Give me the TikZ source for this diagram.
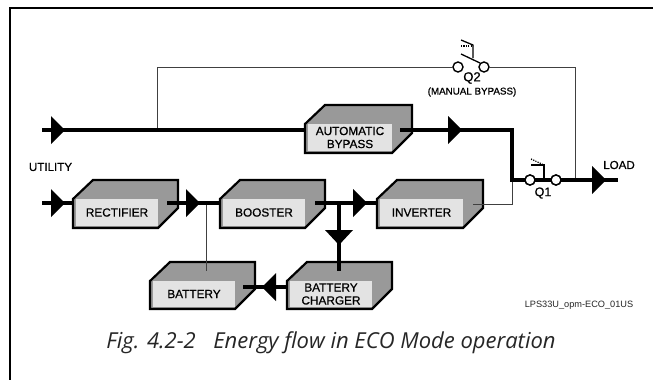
\documentclass[tikz,border=0pt]{standalone}
\usepackage{fontspec}
\setmainfont{Liberation Sans}
\newfontfamily\labfont[RawFeature={embolden=0.7}]{Liberation Sans}
\newfontfamily\capfont{Open Sans}
\tikzset{
  x=1pt,y=-1pt,
  frameline/.style={line width=2.2pt,black},
  boxline/.style={line width=2.2pt,black,line join=miter},
  power/.style={line width=4.4pt,black},
  signal/.style={line width=1pt,black!75},
  blockbody/.style={boxline,fill=black!40},
  blockface/.style={fill=black!11,inner sep=0pt,outer sep=0pt,anchor=north west,align=center,font=\labfont\fontsize{11.8}{13}\selectfont,text=black},
  contact/.style={circle,draw=black,line width=1.4pt,fill=white,minimum size=10pt,inner sep=0pt,outer sep=0pt},
  swline/.style={line width=1.3pt,black},
  swdot/.style={line width=1.2pt,black,dash pattern=on 1.2pt off 1.2pt},
  lab/.style={inner sep=0pt,outer sep=0pt,text=black},
  flowhead/.style={fill=black,draw=none}
}
% #1 name, #2 left, #3 top of front, #4 front right, #5 bottom, #6 depth, #7 text
\newcommand{\ublock}[7]{%
  \draw[blockbody] (#2,#3) -- ({#2+#6},{#3-#6+1}) -- ({#4+#6},{#3-#6+1}) -- ({#4+#6},{#5-#6}) -- (#4,#5) -- (#2,#5) -- cycle;
  \node[blockface,minimum width={(#4-#2-3)*1pt},minimum height={(#5-#3-2)*1pt}] (#1) at ({#2+3},#3) {#7};
}
\newcommand{\headR}[2]{\fill[flowhead] (#1,{#2-14}) -- ({#1+14},#2) -- (#1,{#2+14}) -- cycle;}
\newcommand{\headL}[2]{\fill[flowhead] (#1,{#2-14}) -- ({#1-14},#2) -- (#1,{#2+14}) -- cycle;}
\newcommand{\headD}[2]{\fill[flowhead] ({#1-14},#2) -- ({#1+14},#2) -- (#1,{#2+15}) -- cycle;}
\begin{document}
\begin{tikzpicture}
\useasboundingbox (0,0) rectangle (653,380);
\fill[white] (0,0) rectangle (653,380);
\draw[frameline] (653,8) -- (10,8) -- (10,380);

\ublock{rect}{73}{199}{158}{228}{20}{RECTIFIER}
\ublock{boost}{220}{199}{305}{228}{20}{BOOSTER}
\ublock{inv}{377}{199}{463}{228}{20}{INVERTER}
\ublock{auto}{305}{124}{392}{153}{20}{AUTOMATIC\\BYPASS}
\ublock{batt}{150}{281}{235}{309}{20}{BATTERY}
\ublock{chg}{287}{281}{372}{309}{20}{BATTERY\\CHARGER}

\coordinate (u1) at (42,130);
\coordinate (u2) at (42,203);
\coordinate (tapU) at (157,130);
\coordinate (bend1) at (157,67);
\coordinate (autoL) at (305,130);
\coordinate (autoR) at (400,130);
\coordinate (bus) at (512,130);
\coordinate (busB) at (512,180);
\coordinate (rectIn) at (73,203);
\coordinate (rectOut) at (167,203);
\coordinate (boostIn) at (220,203);
\coordinate (boostOut) at (315,203);
\coordinate (invIn) at (377,203);
\coordinate (invOut) at (473,204);
\coordinate (tapB) at (206,203);
\coordinate (battTop) at (206,271);
\coordinate (tapC) at (339,203);
\coordinate (chgTop) at (339,271);
\coordinate (chgL) at (287,287);
\coordinate (battOut) at (243,287);
\coordinate (invBus) at (512,204);
\coordinate (load) at (618,180);
\coordinate (tapL) at (575,180);
\coordinate (bend2) at (575,67);

\node[contact] (q1a) at (530,180) {};
\node[contact] (q1b) at (556,180) {};
\node[contact] (q2a) at (458,67) {};
\node[contact] (q2b) at (484,67) {};

% thin lines
\draw[signal] (tapU) -- (bend1) -- (q2a);
\draw[signal] (q2b) -- (bend2) -- (tapL);
\draw[signal] (tapB) -- (battTop);
\draw[signal] (invOut) -- (invBus) -- (busB);

% power lines
\draw[power] (u1) -- (autoL);
\draw[power,line join=miter] (autoR) -- (bus) -- (busB) -- (q1a);
\draw[power] (q1a) -- (q1b);
\draw[power] (q1b) -- (load);
\draw[power] (u2) -- (rectIn);
\draw[power] (rectOut) -- (boostIn);
\draw[power] (boostOut) -- (invIn);
\draw[power] (tapC) -- (chgTop);
\draw[power] (chgL) -- (battOut);

\node[contact] at (q1a) {};
\node[contact] at (q1b) {};

\headR{51}{130}
\headR{448}{130}
\headR{592}{180}
\headR{51}{203}
\headR{186}{203}
\headR{353}{203}
\headD{339}{230}
\headL{276}{287}

% switch Q2
\draw[swline] (461,54) -- (480,63);
\draw[swline] (461,40) -- (473,45) -- (473,58);
\draw[swdot] (461,46) -- (473,46);
% switch Q1
\draw[swline] (531,165) -- (544,165) -- (544,180);
\draw[swdot] (531,159) -- (544,165);

\node[lab,font=\labfont\fontsize{11.6}{13}\selectfont] (tutil) at (50.5,167) {UTILITY};
\node[lab,font=\labfont\fontsize{11.6}{13}\selectfont] (tload) at (619,165) {LOAD};
\node[lab,font=\labfont\fontsize{12.5}{13}\selectfont] (tq1) at (543,193) {Q1};
\node[lab,font=\labfont\fontsize{13}{14}\selectfont] (tq2) at (472,78) {Q2};
\node[lab,font=\labfont\fontsize{9.8}{11}\selectfont] (tman) at (472,92) {(MANUAL BYPASS)};
\node[lab,font=\fontsize{9.2}{10}\selectfont,text=black!85] (tcode) at (579,305) {LPS33U\_opm-ECO\_01US};
\node[inner sep=0pt,outer sep=0pt,text=black!85,font=\capfont\itshape\fontsize{22}{24}\selectfont] (tcap) at (331,343) {Fig. 4.2-2\hspace{0.8em}Energy flow in ECO Mode operation};
\end{tikzpicture}
\end{document}
